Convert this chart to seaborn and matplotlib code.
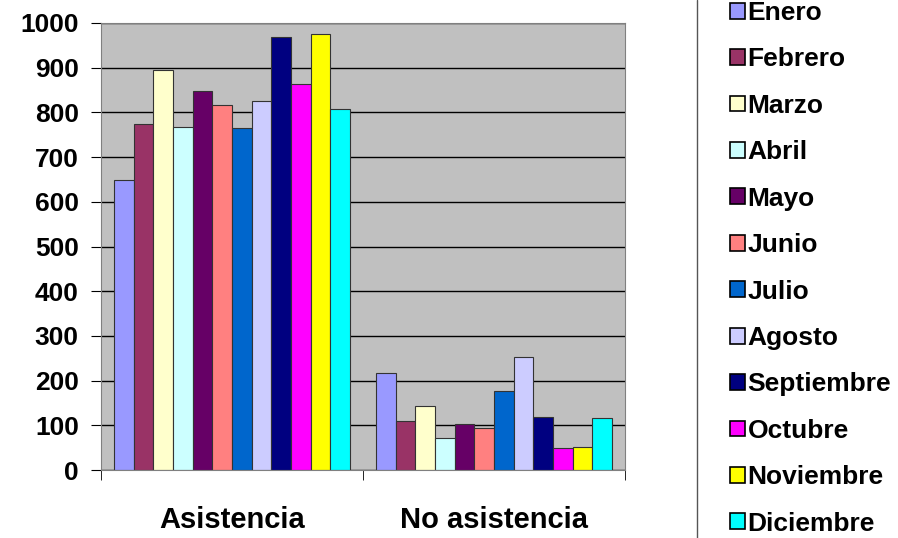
import matplotlib
matplotlib.use("Agg")
import matplotlib.pyplot as plt
import seaborn as sns
import pandas as pd
from matplotlib.patches import Patch
from matplotlib.lines import Line2D

categories = ["Asistencia", "No asistencia"]
months = ["Enero", "Febrero", "Marzo", "Abril", "Mayo", "Junio", "Julio",
          "Agosto", "Septiembre", "Octubre", "Noviembre", "Diciembre"]
asistencia = [649, 773, 895, 768, 847, 817, 765, 826, 969, 863, 975, 808]
no_asistencia = [216, 110, 143, 71, 104, 93, 177, 253, 119, 50, 52, 116]
colors = ["#9999FF", "#993366", "#FFFFCC", "#CCFFFF", "#660066", "#FF8080",
          "#0066CC", "#CCCCFF", "#000080", "#FF00FF", "#FFFF00", "#00FFFF"]
yticks = [0, 100, 200, 300, 400, 500, 600, 700, 800, 900, 1000]

rows = []
for m, a, n in zip(months, asistencia, no_asistencia):
    rows.append({"cat": categories[0], "mes": m, "val": a})
    rows.append({"cat": categories[1], "mes": m, "val": n})
df = pd.DataFrame(rows)

sns.set_style("white")
plt.rcParams["font.family"] = ["Liberation Sans", "DejaVu Sans"]
plt.rcParams["text.color"] = "black"
plt.rcParams["xtick.color"] = "black"
plt.rcParams["ytick.color"] = "black"

fig = plt.figure(figsize=(8.98, 5.38), dpi=100)
ax = fig.add_axes([101/898, 1-470/538, 524/898, 447/538])
ax.set_facecolor("#C0C0C0")
ax.set_axisbelow(True)
ax.yaxis.grid(True, color="black", linewidth=1)

sns.barplot(data=df, x="cat", y="val", hue="mes", hue_order=months,
            palette=colors, order=categories, width=0.9, ax=ax,
            edgecolor="#333333", linewidth=0.8, legend=False, saturation=1)

ax.set_ylim(0, 1000)
ax.set_xlim(-0.5, 1.5)
ax.set_yticks(yticks)
ax.set_yticklabels([str(t) for t in yticks], fontsize=19, fontweight="bold", color="black")
ax.set_xticks([0, 1])
ax.set_xticklabels(categories, fontsize=21, fontweight="bold", color="black")
ax.tick_params(axis="x", length=0, pad=26)
ax.tick_params(axis="y", length=7, direction="out", left=True, color="black", pad=9)
ax.set_xticks([-0.5, 0.5, 1.5], minor=True)
ax.tick_params(axis="x", which="minor", length=7, direction="out", bottom=True, color="black")
ax.set_xlabel("")
ax.set_ylabel("")
for s in ["top", "right", "left", "bottom"]:
    ax.spines[s].set_color("#808080")

handles = [Patch(facecolor=c, edgecolor="black", linewidth=1.2) for c in colors]
leg = fig.legend(handles, months, loc="upper left", bbox_to_anchor=(730/898, 1.0 - 1/538),
                 frameon=False, prop={"weight": "bold", "size": 19},
                 labelspacing=0.85, handlelength=0.55, handleheight=0.55,
                 handletextpad=0.12, borderaxespad=0, borderpad=0, labelcolor="black")
fig.add_artist(Line2D([697/898, 697/898], [0, 1], transform=fig.transFigure,
                      color="#555555", linewidth=1))

fig.savefig("out.png", dpi=100)
